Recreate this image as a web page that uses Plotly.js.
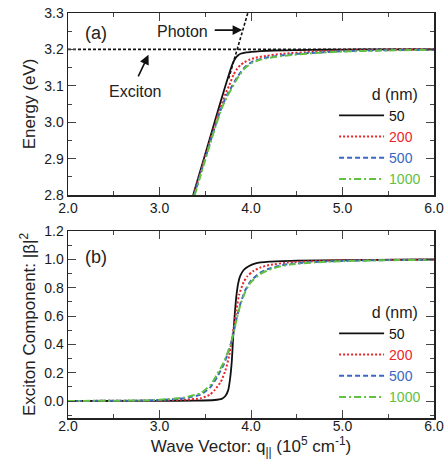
<!DOCTYPE html>
<html><head><meta charset="utf-8">
<script src="https://cdn.plot.ly/plotly-3.0.1.min.js"></script>
<style>html,body{margin:0;padding:0;background:#fff}</style>
</head><body><div id="chart" style="width:448px;height:463px"></div>
<script>
// ---- Panel (a): polariton dispersion, energy (eV) vs wave vector (1e5 cm^-1)
const dLabels = ['50', '200', '500', '1000'];
const seriesColors = ['#111111', '#e8262a', '#3b66c2', '#62c143'];

const qA50 = [3.368, 3.45, 3.55, 3.65, 3.70, 3.74, 3.77, 3.79, 3.81, 3.83, 3.86, 3.885, 3.95, 4.00, 4.10, 4.25, 4.50, 4.80, 5.20, 6.00];
const eA50 = [2.800, 2.870, 2.955, 3.041, 3.083, 3.116, 3.140, 3.155, 3.167, 3.176, 3.184, 3.188, 3.192, 3.193, 3.195, 3.197, 3.198, 3.199, 3.200, 3.200];

const qA200 = [3.375, 3.45, 3.55, 3.62, 3.68, 3.72, 3.76, 3.81, 3.85, 3.885, 3.93, 3.976, 4.05, 4.16, 4.34, 4.70, 5.00, 5.50, 6.00];
const eA200 = [2.800, 2.864, 2.948, 3.005, 3.050, 3.078, 3.100, 3.131, 3.147, 3.157, 3.165, 3.171, 3.177, 3.182, 3.188, 3.194, 3.197, 3.199, 3.200];

const qA500 = [3.380, 3.45, 3.55, 3.62, 3.68, 3.74, 3.795, 3.85, 3.92, 4.01, 4.08, 4.16, 4.34, 4.70, 5.00, 5.50, 6.00];
const eA500 = [2.800, 2.859, 2.942, 2.998, 3.042, 3.076, 3.100, 3.124, 3.148, 3.166, 3.172, 3.177, 3.184, 3.191, 3.195, 3.198, 3.199];

const qA1000 = [3.385, 3.45, 3.55, 3.62, 3.68, 3.74, 3.80, 3.85, 3.92, 4.01, 4.08, 4.16, 4.34, 4.70, 5.00, 5.50, 6.00];
const eA1000 = [2.800, 2.855, 2.938, 2.994, 3.038, 3.071, 3.097, 3.120, 3.145, 3.163, 3.170, 3.175, 3.182, 3.190, 3.194, 3.197, 3.199];

// reference lines
const qPhoton = [3.756, 3.965];
const ePhoton = [3.120, 3.300];
const qExciton = [2.0, 6.0];
const eExciton = [3.2, 3.2];

// ---- Panel (b): exciton component |beta|^2
const qB50 = [2.0, 3.0, 3.4, 3.6, 3.68, 3.72, 3.75, 3.77, 3.79, 3.805, 3.82, 3.84, 3.86, 3.88, 3.92, 3.97, 4.05, 4.20, 4.50, 5.00, 6.00];
const vB50 = [0.000, 0.001, 0.003, 0.007, 0.015, 0.035, 0.075, 0.15, 0.28, 0.45, 0.59, 0.74, 0.83, 0.88, 0.925, 0.95, 0.972, 0.984, 0.991, 0.995, 0.999];

const qB200 = [2.0, 3.0, 3.3, 3.45, 3.55, 3.60, 3.67, 3.72, 3.76, 3.80, 3.84, 3.87, 3.92, 3.96, 4.02, 4.10, 4.20, 4.40, 4.70, 5.00, 6.00];
const vB200 = [0.000, 0.004, 0.010, 0.019, 0.045, 0.075, 0.135, 0.215, 0.315, 0.47, 0.64, 0.75, 0.84, 0.88, 0.915, 0.942, 0.96, 0.977, 0.988, 0.993, 0.999];

const qB500 = [2.0, 2.8, 3.0, 3.27, 3.45, 3.56, 3.63, 3.70, 3.78, 3.84, 3.885, 3.94, 4.00, 4.10, 4.18, 4.30, 4.43, 4.70, 5.00, 5.50, 6.00];
const vB500 = [0.000, 0.003, 0.007, 0.020, 0.045, 0.10, 0.17, 0.255, 0.40, 0.575, 0.69, 0.785, 0.85, 0.905, 0.93, 0.953, 0.968, 0.982, 0.989, 0.995, 0.998];

const qB1000 = [2.0, 2.8, 3.0, 3.27, 3.45, 3.56, 3.63, 3.70, 3.78, 3.84, 3.885, 3.94, 4.00, 4.10, 4.18, 4.30, 4.43, 4.70, 5.00, 5.50, 6.00];
const vB1000 = [0.000, 0.004, 0.009, 0.025, 0.055, 0.115, 0.19, 0.27, 0.405, 0.57, 0.68, 0.775, 0.84, 0.895, 0.922, 0.947, 0.963, 0.979, 0.987, 0.994, 0.997];

const dashes = ['solid', '2px,2px', '5px,3px', '7px,3px,2px,3px'];
const topQ = [qA50, qA200, qA500, qA1000];
const topE = [eA50, eA200, eA500, eA1000];
const botQ = [qB50, qB200, qB500, qB1000];
const botV = [vB50, vB200, vB500, vB1000];

const FONT = 'Liberation Sans, Arial, Helvetica, sans-serif';

function nameFor(i) {
  return '<span style="color:' + seriesColors[i] + '">' + dLabels[i] + '</span>';
}

const traces = [];
traces.push({x: qExciton, y: eExciton, xaxis: 'x', yaxis: 'y', mode: 'lines', showlegend: false, hoverinfo: 'skip',
  line: {color: '#111', width: 1.6, dash: '3px,2px'}});
traces.push({x: qPhoton, y: ePhoton, xaxis: 'x', yaxis: 'y', mode: 'lines', showlegend: false, hoverinfo: 'skip',
  line: {color: '#111', width: 1.6, dash: '3px,2px'}});
for (let i = 0; i < 4; i++) {
  traces.push({x: topQ[i], y: topE[i], xaxis: 'x', yaxis: 'y', mode: 'lines', name: nameFor(i), legend: 'legend',
    line: {color: seriesColors[i], width: i === 0 ? 1.8 : 2, dash: dashes[i], shape: 'spline', smoothing: 0.5}});
}
for (let i = 0; i < 4; i++) {
  traces.push({x: botQ[i], y: botV[i], xaxis: 'x2', yaxis: 'y2', mode: 'lines', name: nameFor(i), legend: 'legend2',
    line: {color: seriesColors[i], width: i === 0 ? 1.8 : 2, dash: dashes[i], shape: 'spline', smoothing: 0.5}});
}

const axisCommon = {
  showline: true, linecolor: '#222', linewidth: 1.5, mirror: 'allticks',
  ticks: 'inside', ticklen: 8, tickwidth: 1, tickcolor: '#444',
  showgrid: false, zeroline: false,
  tickfont: {family: FONT, size: 14, color: '#1a1a1a'},
  tickformat: '.1f'
};

const legendTitle = '&nbsp;&nbsp;&nbsp;&nbsp;&nbsp;&nbsp;&nbsp;&nbsp;d (nm)';

const layout = {
  width: 448, height: 463,
  margin: {l: 68, r: 14, t: 13, b: 45},
  paper_bgcolor: '#fff', plot_bgcolor: '#fff',
  font: {family: FONT, color: '#222'},
  xaxis: Object.assign({}, axisCommon, {domain: [0, 1], anchor: 'y', range: [2, 6], tick0: 2, dtick: 1,
    minor: {dtick: 0.5, ticks: 'inside', ticklen: 4, tickcolor: '#444'}}),
  yaxis: Object.assign({}, axisCommon, {domain: [0.5506, 1], anchor: 'x', range: [2.8, 3.3], tick0: 2.8, dtick: 0.1,
    minor: {dtick: 0.05, ticks: 'inside', ticklen: 4, tickcolor: '#444'},
    title: {text: 'Energy (eV)', font: {family: FONT, size: 17, color: '#222'}, standoff: 4}}),
  xaxis2: Object.assign({}, axisCommon, {domain: [0, 1], anchor: 'y2', range: [2, 6], tick0: 2, dtick: 1,
    ticklabelstandoff: -5,
    minor: {dtick: 0.5, ticks: 'inside', ticklen: 4, tickcolor: '#444'},
    title: {text: 'Wave Vector: q<sub>||</sub> (10<sup>5</sup> cm<sup>-1</sup>)', font: {family: FONT, size: 17, color: '#222'}, standoff: 0}}),
  yaxis2: Object.assign({}, axisCommon, {domain: [0, 0.4617], anchor: 'x2', range: [-0.12, 1.2], tick0: 0, dtick: 0.2,
    minor: {dtick: 0.1, ticks: 'inside', ticklen: 4, tickcolor: '#444'},
    title: {text: 'Exciton Component: |β|<sup>2</sup>', font: {family: FONT, size: 17, color: '#222'}, standoff: 4}}),
  legend: {x: 0.727, xanchor: 'left', y: 0.837, yanchor: 'top', bgcolor: 'rgba(0,0,0,0)',
    font: {family: FONT, size: 14, color: '#222'}, itemwidth: 45, tracegroupgap: 0,
    title: {text: legendTitle, font: {family: FONT, size: 16, color: '#222'}}},
  legend2: {x: 0.727, xanchor: 'left', y: 0.299, yanchor: 'top', bgcolor: 'rgba(0,0,0,0)',
    font: {family: FONT, size: 14, color: '#222'}, itemwidth: 45, tracegroupgap: 0,
    title: {text: legendTitle, font: {family: FONT, size: 16, color: '#222'}}},
  annotations: [
    {xref: 'x', yref: 'y', x: 2.31, y: 3.245, text: '(a)', showarrow: false, font: {family: FONT, size: 18, color: '#222'}},
    {xref: 'x2', yref: 'y2', x: 2.31, y: 1.017, text: '(b)', showarrow: false, font: {family: FONT, size: 18, color: '#222'}},
    {xref: 'x', yref: 'y', x: 3.25, y: 3.25, text: 'Photon', showarrow: false, font: {family: FONT, size: 16, color: '#222'}},
    {xref: 'x', yref: 'y', x: 2.73, y: 3.083, text: 'Exciton', showarrow: false, font: {family: FONT, size: 16, color: '#222'}},
    {xref: 'x', yref: 'y', x: 3.904, y: 3.253, text: '', showarrow: true, ax: -29, ay: 0,
      arrowhead: 2, arrowsize: 1.2, arrowwidth: 1.6, arrowcolor: '#111'},
    {xref: 'x', yref: 'y', x: 2.88, y: 3.185, text: '', showarrow: true, ax: -11, ay: 23,
      arrowhead: 2, arrowsize: 1.2, arrowwidth: 1.6, arrowcolor: '#111'}
  ]
};

Plotly.newPlot('chart', traces, layout, {displayModeBar: false, staticPlot: true});
</script></body></html>
